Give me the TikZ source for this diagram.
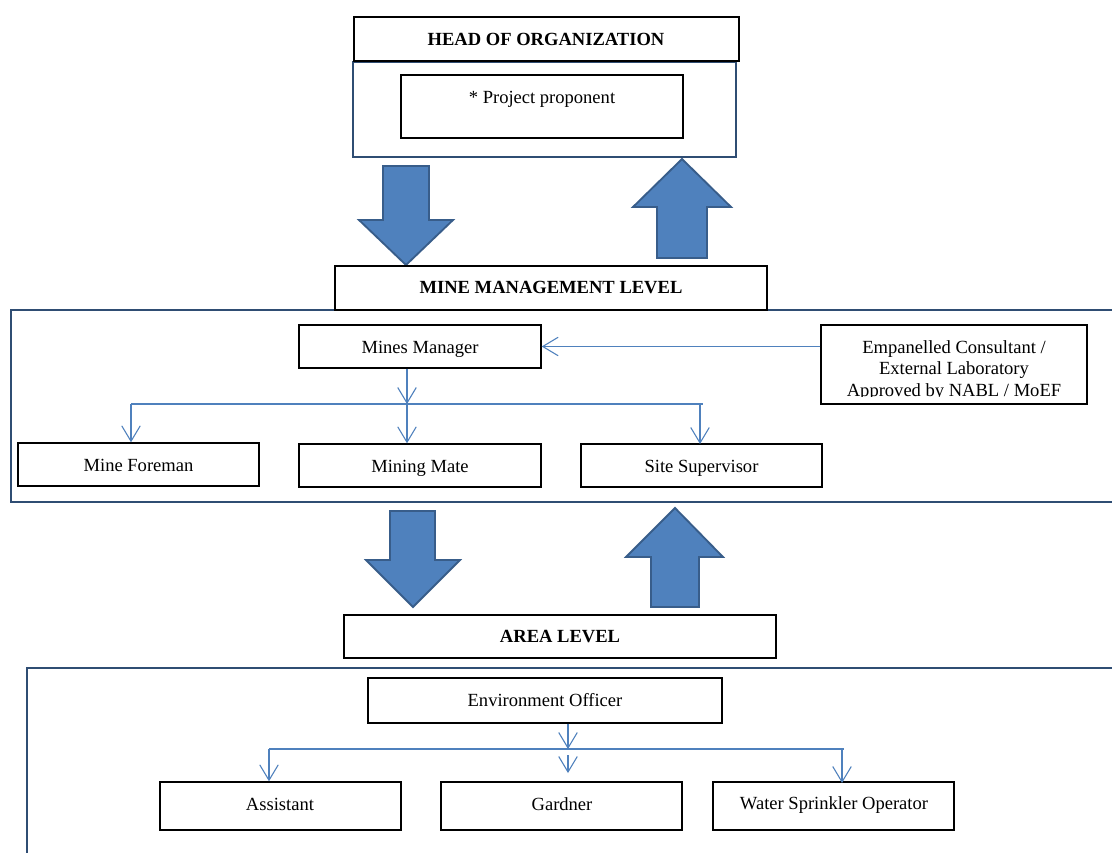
\documentclass[tikz,border=0pt]{standalone}
\usepackage{fontspec}
\setmainfont{Liberation Serif}
\usetikzlibrary{arrows.meta,fit}
\definecolor{frameblue}{RGB}{47,77,115}
\definecolor{arrowfill}{RGB}{79,129,189}
\definecolor{arrowedge}{RGB}{56,93,138}
\definecolor{connblue}{RGB}{79,129,189}
\begin{document}
\begin{tikzpicture}[x=0.647pt,y=-0.647pt,
  font=\fontsize{12}{13.9}\selectfont,
  box/.style={draw=black,line width=0.9pt,fill=white,inner sep=0pt},
  lvlbox/.style={draw=black,line width=1pt,fill=white,inner sep=0pt},
  txt/.style={inner sep=0pt,anchor=center,text height=10.7pt,text depth=2.6pt},
  multitxt/.style={inner sep=0pt,anchor=center,align=center},
  bold/.style={txt,font=\fontsize{12}{13.9}\selectfont\bfseries},
  framebox/.style={draw=frameblue,line width=1.6pt},
  bigarrow/.style={fill=arrowfill,draw=arrowedge,line width=1.2pt,line join=miter},
  conn/.style={draw=connblue,line width=0.7pt,-{Straight Barb[length=10pt,width=12pt]}},
  bus/.style={draw=connblue,line width=0.7pt}]
\useasboundingbox (0,0) rectangle (1112,852);
\clip (0,0) rectangle (1112,852);
\fill[white] (0,0) rectangle (1112,852);

% ---------- head of organization ----------
\node[framebox,fit={(353,62) (736,157)},inner sep=0pt] (headframe) {};
\node[lvlbox,fit={(354,17) (739,61)}] (head) {};
\node[bold] (headtext) at (546,39) {HEAD OF ORGANIZATION};
\node[box,fit={(401,75) (683,138)}] (pp) {};
\node[txt] (pptext) at (542,97) {* Project proponent};

% big arrows top
\draw[bigarrow] (383,166) -- (429,166) -- (429,220) -- (453,220) -- (406,265) -- (359,220) -- (383,220) -- cycle;
\draw[bigarrow] (657,258) -- (707,258) -- (707,207) -- (731,207) -- (682,159) -- (633,207) -- (657,207) -- cycle;

% ---------- mine management level ----------
\draw[framebox] (11,310) rectangle (1125,502);
\node[lvlbox,fit={(335,266) (767,310)}] (mml) {};
\node[bold] (mmltext) at (551,287) {MINE MANAGEMENT LEVEL};

\node[box,fit={(299,325) (541,368)}] (mm) {};
\node[txt] (mmtext) at (420,347) {Mines Manager};
\node[box,fit={(821,325) (1087,404)}] (emp) {};
\begin{scope}
  \clip (821,325) rectangle (1087,396.5);
  \node[multitxt] (emptext) at (954,370.5) {Empanelled Consultant /\\External Laboratory\\Approved by NABL / MoEF};
\end{scope}
\node[box,fit={(18,443) (259,486)}] (mf) {};
\node[txt] (mftext) at (138.5,465) {Mine Foreman};
\node[box,fit={(299,444) (541,487)}] (mate) {};
\node[txt] (matetext) at (420,466) {Mining Mate};
\node[box,fit={(581,444) (822,487)}] (ss) {};
\node[txt] (sstext) at (701.5,466) {Site Supervisor};

\coordinate (mbus) at (407,404);
\coordinate (mbusl) at (131,404);
\coordinate (mbusr) at (703,404);
\draw[conn] (emp.west |- mm.east) -- (mm.east);
\draw[conn] (mm.south -| mbus) -- (mbus);
\draw[bus] (mbusl) -- (mbusr);
\draw[conn] (mbusl) -- (mbusl |- mf.north);
\draw[conn] (mbus) -- (mbus |- mate.north);
\draw[conn] (700,404) -- (700,444);

% big arrows middle
\draw[bigarrow] (390,511) -- (435,511) -- (435,560) -- (460,560) -- (413,607) -- (366,560) -- (390,560) -- cycle;
\draw[bigarrow] (651,607) -- (699,607) -- (699,557) -- (723,557) -- (675,508) -- (626,557) -- (651,557) -- cycle;

% ---------- area level ----------
\draw[framebox] (27,668) rectangle (1125,880);
\node[lvlbox,fit={(344,615) (776,658)}] (area) {};
\node[bold] (areatext) at (560,636) {AREA LEVEL};

\node[box,fit={(368,678) (722,723)}] (eo) {};
\node[txt] (eotext) at (545,700) {Environment Officer};
\node[box,fit={(160,782) (401,830)}] (asst) {};
\node[txt] (assttext) at (280,804) {Assistant};
\node[box,fit={(441,782) (682,830)}] (gard) {};
\node[txt] (gardtext) at (562,804) {Gardner};
\node[box,fit={(713,782) (954,830)}] (wso) {};
\node[txt] (wsotext) at (834,803) {Water Sprinkler Operator};

\coordinate (abus) at (568,749);
\coordinate (abusl) at (269,749);
\coordinate (abusr) at (844,749);
\draw[conn] (eo.south -| abus) -- (abus);
\draw[bus] (abusl) -- (abusr);
\draw[conn] (abusl) -- (abusl |- asst.north);
\draw[conn] (568,755) -- (568,773);
\draw[conn] (842,749) -- (842,783);
\end{tikzpicture}
\end{document}
